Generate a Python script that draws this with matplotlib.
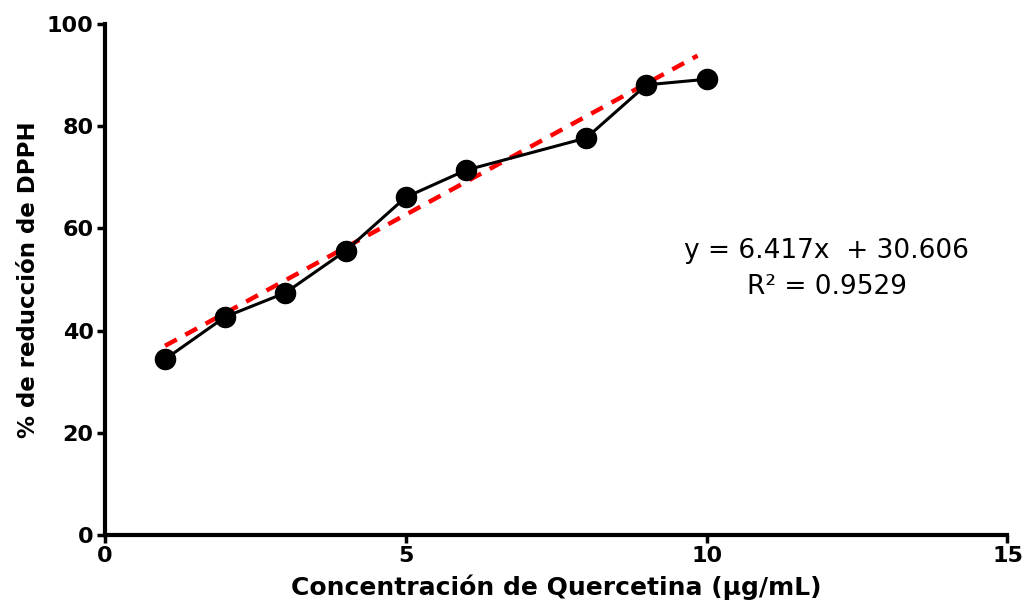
import matplotlib
matplotlib.use('Agg')
import matplotlib.pyplot as plt
import numpy as np

# DPPH reduction vs quercetin concentration
conc = [1, 2, 3, 4, 5, 6, 8, 9, 10]
reduccion = [34.4, 42.7, 47.4, 55.6, 66.1, 71.4, 77.7, 88.1, 89.2]

# linear fit reported on the chart
slope = 6.417
intercept = 30.606
r2 = 0.9529

plt.rcParams['font.family'] = ['DejaVu Sans']

fig = plt.figure(figsize=(10.28, 6.09), dpi=100)
ax = fig.add_axes([0.102, 0.1215, 0.878, 0.839])

x_fit = np.array([min(conc), 9.85])
ax.plot(x_fit, slope * x_fit + intercept, color='#ff0000', linestyle=(0, (3, 2.2)),
        linewidth=3.2, zorder=2)
ax.plot(conc, reduccion, color='black', linewidth=2.2, marker='o', markersize=14.5,
        zorder=3)

ax.set_xlim(0, 15)
ax.set_ylim(0, 100)
ax.set_xticks([0, 5, 10, 15])
ax.set_yticks([0, 20, 40, 60, 80, 100])

for side in ['top', 'right']:
    ax.spines[side].set_visible(False)
for side in ['left', 'bottom']:
    ax.spines[side].set_linewidth(3)
ax.tick_params(width=2.5, length=6, labelsize=16, pad=2)
for lbl in ax.get_xticklabels() + ax.get_yticklabels():
    lbl.set_fontweight('bold')

ax.set_xlabel('Concentración de Quercetina (µg/mL)', fontsize=18, fontweight='bold', labelpad=6)
ax.set_ylabel('% de reducción de DPPH', fontsize=16.5, fontweight='bold', labelpad=5)

ax.text(12.0, 55.6, f'y = {slope}x  + {intercept}', fontsize=19, ha='center', va='center')
ax.text(12.0, 48.5, f'R² = {r2}', fontsize=19, ha='center', va='center')

fig.savefig('out.png', dpi=100)
